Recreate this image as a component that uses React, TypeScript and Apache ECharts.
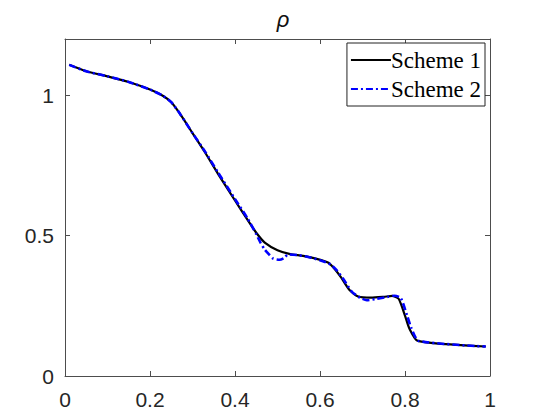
import React, { useEffect, useRef } from "react";
import * as echarts from "echarts";

const titleText = "ρ";
const seriesNames = ["Scheme 1", "Scheme 2"];

const scheme1X = [0.01, 0.05, 0.1, 0.15, 0.2, 0.23, 0.25, 0.27, 0.3, 0.33, 0.36, 0.4, 0.43, 0.45, 0.47, 0.5, 0.53, 0.56, 0.59, 0.62, 0.635, 0.65, 0.67, 0.69, 0.72, 0.75, 0.77, 0.785, 0.8, 0.81, 0.83, 0.99];
const scheme1Y = [1.108, 1.085, 1.067, 1.047, 1.02, 0.998, 0.975, 0.935, 0.865, 0.795, 0.72, 0.625, 0.555, 0.51, 0.475, 0.448, 0.434, 0.428, 0.418, 0.403, 0.38, 0.35, 0.305, 0.283, 0.279, 0.282, 0.285, 0.275, 0.215, 0.17, 0.125, 0.105];

const scheme2X = [0.01, 0.05, 0.1, 0.15, 0.2, 0.23, 0.25, 0.27, 0.3, 0.33, 0.36, 0.4, 0.43, 0.45, 0.46, 0.47, 0.48, 0.49, 0.505, 0.515, 0.525, 0.55, 0.57, 0.6, 0.625, 0.64, 0.655, 0.675, 0.695, 0.71, 0.73, 0.76, 0.775, 0.79, 0.805, 0.815, 0.832, 0.99];
const scheme2Y = [1.108, 1.085, 1.067, 1.047, 1.02, 0.998, 0.975, 0.935, 0.865, 0.798, 0.725, 0.63, 0.56, 0.505, 0.475, 0.45, 0.433, 0.418, 0.414, 0.42, 0.433, 0.43, 0.425, 0.412, 0.397, 0.375, 0.345, 0.3, 0.278, 0.27, 0.274, 0.282, 0.286, 0.278, 0.215, 0.17, 0.125, 0.105];

const xTicks = { min: 0, max: 1, interval: 0.2 };
const yTicks = { min: 0, max: 1.2, interval: 0.5 };

const pair = (xs: number[], ys: number[]) => xs.map((x, i) => [x, ys[i]]);

export default function App() {
  const ref = useRef<HTMLDivElement>(null);
  useEffect(() => {
    if (!ref.current) return;
    const chart = echarts.init(ref.current, undefined, { renderer: "svg" });
    const axisColor = "#4d4d4d";
    const labelFont = { color: "#262626", fontSize: 21, fontFamily: "Liberation Sans" };
    const baseX = {
      type: "value" as const,
      min: xTicks.min,
      max: xTicks.max,
      interval: xTicks.interval,
      splitLine: { show: false },
      axisLine: { show: true, onZero: false, lineStyle: { color: axisColor, width: 1 } },
      axisTick: { show: true, inside: true, length: 5, lineStyle: { color: axisColor } },
    };
    const baseY = {
      type: "value" as const,
      min: yTicks.min,
      max: yTicks.max,
      interval: yTicks.interval,
      splitLine: { show: false },
      axisLine: { show: true, onZero: false, lineStyle: { color: axisColor, width: 1 } },
      axisTick: { show: true, inside: true, length: 5, lineStyle: { color: axisColor } },
    };
    chart.setOption({
      animation: false,
      backgroundColor: "#fff",
      title: {
        text: titleText,
        left: 278,
        top: 3,
        textAlign: "center",
        textStyle: { fontSize: 22, fontStyle: "italic", fontWeight: "normal", color: "#111", fontFamily: "Liberation Sans" },
      },
      grid: { left: 65, right: 47, top: 39, bottom: 43, containLabel: false },
      legend: {
        orient: "vertical",
        right: 52,
        top: 43,
        backgroundColor: "#fff",
        borderColor: "#222",
        borderWidth: 1,
        borderRadius: 0,
        padding: [5, 4, 5, 3],
        itemGap: 5,
        itemWidth: 40,
        itemHeight: 16,
        itemStyle: { color: "transparent", borderWidth: 0, opacity: 0 },
        textStyle: { fontSize: 23, fontFamily: "Liberation Serif", color: "#000", lineHeight: 24, padding: [0, 0, 0, -5] },
        data: seriesNames,
      },
      xAxis: [
        { ...baseX, position: "bottom", axisLabel: { ...labelFont, margin: 13 } },
        { ...baseX, position: "top", axisLabel: { show: false } },
      ],
      yAxis: [
        {
          ...baseY,
          position: "left",
          axisLabel: { ...labelFont, margin: 11, formatter: (v: number) => (v > 1.1 ? "" : String(v)) },
        },
        { ...baseY, position: "right", axisLabel: { show: false } },
      ],
      series: [
        {
          name: seriesNames[0],
          type: "line",
          xAxisIndex: 0,
          yAxisIndex: 0,
          data: pair(scheme1X, scheme1Y),
          showSymbol: false,
          symbol: "none",
          smooth: 0.2,
          lineStyle: { color: "#000", width: 2.2 },
          itemStyle: { color: "#000" },
        },
        {
          name: seriesNames[1],
          type: "line",
          xAxisIndex: 0,
          yAxisIndex: 0,
          data: pair(scheme2X, scheme2Y),
          showSymbol: false,
          symbol: "none",
          smooth: 0.2,
          lineStyle: { color: "#0000ff", width: 2.6, type: [7, 3, 2, 3] },
          itemStyle: { color: "#0000ff" },
        },
      ],
    });
    return () => chart.dispose();
  }, []);
  return <div ref={ref} style={{ position: "fixed", left: 0, top: 0, width: 537, height: 419 }} />;
}
